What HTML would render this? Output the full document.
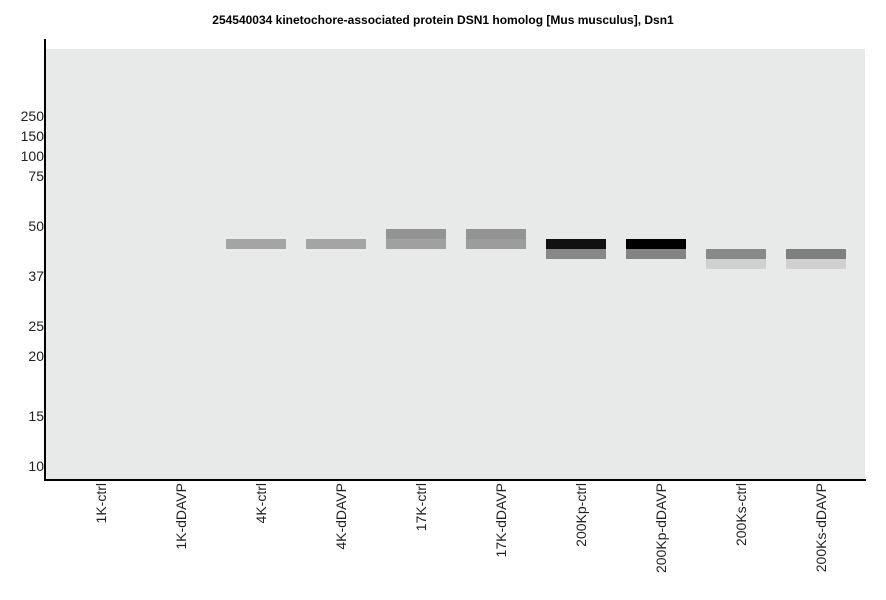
<!DOCTYPE html>
<html><head><style>
body{margin:0;background:#fff;width:886px;height:595px;overflow:hidden;font-family:"Liberation Sans",sans-serif;}
svg text{font-family:"Liberation Sans",sans-serif;}
</style></head><body>
<svg width="886" height="595" xmlns="http://www.w3.org/2000/svg">
<text x="443" y="24" text-anchor="middle" font-size="12" font-weight="bold">254540034 kinetochore-associated protein DSN1 homolog [Mus musculus], Dsn1</text>
<rect x="46" y="49" width="819" height="430" fill="#e8eaea"/>
<rect x="44" y="39" width="2" height="442" fill="#000"/>
<rect x="44" y="479" width="822" height="2" fill="#000"/>
<g font-size="14" text-anchor="end" fill="#222">
<text x="44" y="121">250</text><text x="44" y="141">150</text><text x="44" y="161">100</text><text x="44" y="181">75</text>
<text x="44" y="231">50</text><text x="44" y="281">37</text><text x="44" y="331">25</text><text x="44" y="361">20</text>
<text x="44" y="421">15</text><text x="44" y="471">10</text>
</g>
<rect x="226" y="239" width="60" height="10" fill="#a4a4a4"/>
<rect x="306" y="239" width="60" height="10" fill="#a4a4a4"/>
<rect x="386" y="229" width="60" height="10" fill="#939393"/>
<rect x="386" y="239" width="60" height="10" fill="#a0a0a0"/>
<rect x="466" y="229" width="60" height="10" fill="#939393"/>
<rect x="466" y="239" width="60" height="10" fill="#9c9c9c"/>
<rect x="546" y="239" width="60" height="10" fill="#111"/>
<rect x="546" y="249" width="60" height="10" fill="#888"/>
<rect x="626" y="239" width="60" height="10" fill="#000"/>
<rect x="626" y="249" width="60" height="10" fill="#838383"/>
<rect x="706" y="249" width="60" height="10" fill="#898989"/>
<rect x="706" y="259" width="60" height="10" fill="#cfd0d0"/>
<rect x="786" y="249" width="60" height="10" fill="#7f7f7f"/>
<rect x="786" y="259" width="60" height="10" fill="#d0d0d0"/>
<g font-size="14" text-anchor="end" fill="#222">
<text transform="translate(106,483) rotate(-90)">1K-ctrl</text>
<text transform="translate(186,483) rotate(-90)">1K-dDAVP</text>
<text transform="translate(266,483) rotate(-90)">4K-ctrl</text>
<text transform="translate(346,483) rotate(-90)">4K-dDAVP</text>
<text transform="translate(426,483) rotate(-90)">17K-ctrl</text>
<text transform="translate(506,483) rotate(-90)">17K-dDAVP</text>
<text transform="translate(586,483) rotate(-90)">200Kp-ctrl</text>
<text transform="translate(666,483) rotate(-90)">200Kp-dDAVP</text>
<text transform="translate(746,483) rotate(-90)">200Ks-ctrl</text>
<text transform="translate(826,483) rotate(-90)">200Ks-dDAVP</text>
</g>
</svg>
</body></html>
